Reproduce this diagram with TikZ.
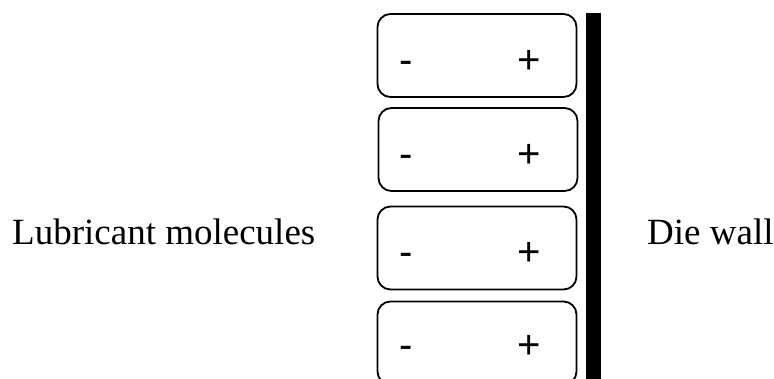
\documentclass[tikz,border=0pt]{standalone}
\usepackage{fontspec}
\setmainfont{Liberation Serif}
\newfontfamily\signfont{Liberation Sans}
\begin{document}
\begin{tikzpicture}[x=1pt,y=-1pt,
  molbox/.style={draw=black, line width=1.8pt, rounded corners=13pt,
    minimum width=199pt, minimum height=83pt, inner sep=0pt},
  sign/.style={inner sep=0pt, anchor=base, font=\signfont\fontsize{40}{40}\selectfont},
  caption/.style={inner sep=0pt, anchor=base west, font=\fontsize{37}{37}\selectfont}]
\useasboundingbox (0,0) rectangle (774,378);
\clip (0,0) rectangle (774,378);

% molecule boxes, stacked against the wall
\node[molbox] (m1) at (477,55.5) {};
\node[molbox] (m2) at (478,149.5) {};
\node[molbox] (m3) at (477,248) {};
\node[molbox] (m4) at (477,343) {};

% charges: negative end away from the wall, positive end toward it
\foreach \b/\y in {m1/73, m2/167, m3/265, m4/358.5} {
  \node[sign] (\b-neg) at (406,\y) {-};
  \node[sign] (\b-pos) at (529,\y) {+};
}

% die wall
\fill[black] (586,13) rectangle (601,380);
\coordinate (wall) at (593.5,200);

% labels
\node[caption] (lub) at (12,244) {Lubricant molecules};
\node[caption] (die) at (647,244) {Die wall};
\end{tikzpicture}
\end{document}
